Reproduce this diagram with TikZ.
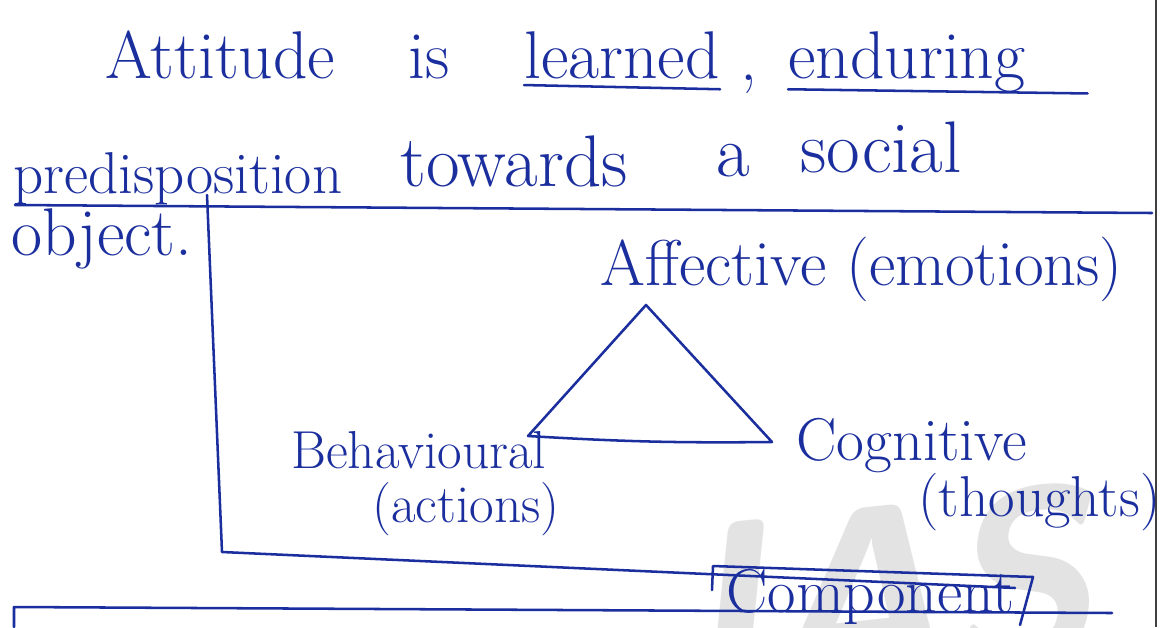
\documentclass[tikz,border=0pt]{standalone}
\usetikzlibrary{positioning}
\definecolor{ink}{HTML}{1B2E9E}
\tikzset{
  pen/.style={draw=ink, line width=1.8pt, line cap=round, line join=round},
  hand/.style={text=ink, inner sep=0pt, anchor=base west, font=\fontsize{#1}{#1}\selectfont},
  hand/.default=46,
  watermark/.style={text=black!11, font=\sffamily\bfseries\itshape\fontsize{175}{175}\selectfont},
}
\begin{document}
\begin{tikzpicture}[x=0.025cm, y=-0.025cm]
  \useasboundingbox (0,0) rectangle (1161,627);
  % faint watermark
  \node[watermark, rotate=6] (wm) at (885,592) {IAS};
  % page edge
  \draw[black!75, line width=1.2pt] (1156,0) -- (1156,627);
  % the definition
  \node[hand=48] (att) at (105,78) {Attitude};
  \node[hand=48] (is) at (408,78) {is};
  \node[hand=48] (learned) at (524,78) {learned};
  \node[hand=48] (comma) at (740,80) {,};
  \node[hand=48] (enduring) at (788,78) {enduring};
  \node[hand=42] (predis) at (13,193) {predisposition};
  \node[hand=52] (towards) at (400,186) {towards};
  \node[hand=52] (a) at (716,176) {a};
  \node[hand=52] (social) at (800,172) {social};
  \node[hand=48] (object) at (11,255) {object.};
  \draw[pen] ([yshift=-5pt]learned.base west) -- ([yshift=-8pt]learned.base east);
  \draw[pen] ([yshift=-8pt]enduring.base west) -- ([xshift=44pt,yshift=-11pt]enduring.base east);
  \draw[pen] (15,205) -- (1152,213);
  % frame round the components
  \draw[pen] (207,195) -- (222,552) -- (1015,588);
  % the three components
  \node[hand] (affective) at (600,285) {Affective (emotions)};
  \node[hand=38] (behav) at (291,468) {Behavioural};
  \node[hand=38] (actions) at (372,522) {(actions)};
  \node[hand=43] (cognitive) at (796,460) {Cognitive};
  \node[hand=41] (thoughts) at (918,516) {(thoughts)};
  \coordinate (apex) at (646,305);
  \coordinate (bl) at (528,436);
  \coordinate (br) at (772,442);
  \draw[pen] (bl) -- (apex) -- (br) to[bend left=2] (bl);
  % label box
  \node[hand=44] (component) at (726,612) {Component};
  \draw[pen] (712,590) -- (713,566) -- (1033,577) -- (1020,625);
  % next box, cut off
  \draw[pen] (14,627) -- (14,607) -- (1112,613);
\end{tikzpicture}
\end{document}
